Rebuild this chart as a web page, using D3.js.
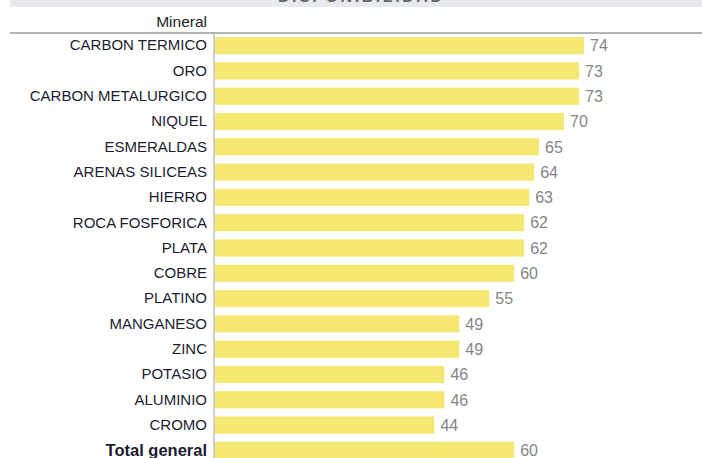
<!DOCTYPE html>
<html>
<head>
<meta charset="utf-8">
<script src="https://cdn.jsdelivr.net/npm/d3@7"></script>
<style>
  html, body { margin: 0; padding: 0; background: #fff; }
  svg { display: block; }
  text { font-family: "Liberation Sans", Arial, sans-serif; }
</style>
</head>
<body>
<svg id="chart" width="702" height="458"></svg>
<script>
const minerals = [
  "CARBON TERMICO", "ORO", "CARBON METALURGICO", "NIQUEL", "ESMERALDAS",
  "ARENAS SILICEAS", "HIERRO", "ROCA FOSFORICA", "PLATA", "COBRE",
  "PLATINO", "MANGANESO", "ZINC", "POTASIO", "ALUMINIO", "CROMO", "Total general"
];
const disponibilidad = [74, 73, 73, 70, 65, 64, 63, 62, 62, 60, 55, 49, 49, 46, 46, 44, 60];
const titleText = "DISPONIBILIDAD";
const columnHeader = "Mineral";

const rows = minerals.map((m, i) => ({ name: m, value: disponibilidad[i] }));

const svg = d3.select("#chart");
const W = 702, H = 458;
const axisX = 214;

// title band at the top (the title sits mostly above the visible area)
svg.append("rect").attr("x", 10).attr("y", 0).attr("width", W - 10).attr("height", 7).attr("fill", "#e9eaef");
svg.append("text").attr("x", 360).attr("y", 2).attr("text-anchor", "middle")
  .attr("font-size", 16).attr("font-weight", "bold").attr("fill", "#666")
  .attr("textLength", 164).text(titleText);

const x = d3.scaleLinear().domain([0, 74]).range([axisX + 1, 584]);
const y = d3.scaleBand().domain(minerals).range([33, 463]).paddingInner(0.32).paddingOuter(0.16);

// header row
svg.append("text").attr("x", 207).attr("y", 27).attr("text-anchor", "end")
  .attr("font-size", 15.5).attr("fill", "#222").text(columnHeader);
svg.append("line").attr("x1", 10).attr("x2", W).attr("y1", 33).attr("y2", 33)
  .attr("stroke", "#b4b4b4").attr("stroke-width", 2);

// bars
svg.append("g").selectAll("rect").data(rows).join("rect")
  .attr("x", x(0))
  .attr("y", d => y(d.name))
  .attr("width", d => x(d.value) - x(0))
  .attr("height", y.bandwidth())
  .attr("fill", "#f4e872");

// row labels
const yAxis = d3.axisLeft(y).tickSize(0).tickPadding(7);
const gy = svg.append("g").attr("transform", `translate(${axisX},0)`).call(yAxis);
gy.select(".domain").remove();
gy.selectAll("text")
  .attr("font-size", d => d === "Total general" ? 16.5 : 15)
  .attr("fill", "#1c1c30")
  .attr("font-family", null)
  .attr("font-weight", d => d === "Total general" ? "bold" : null);

// axis line
svg.append("line").attr("x1", axisX).attr("x2", axisX).attr("y1", 34).attr("y2", H)
  .attr("stroke", "#b0b0b0").attr("stroke-width", 1.2);

// value labels
svg.append("g").selectAll("text").data(rows).join("text")
  .attr("x", d => x(d.value) + 6)
  .attr("y", d => y(d.name) + y.bandwidth() / 2)
  .attr("dy", "0.36em")
  .attr("font-size", 16)
  .attr("fill", "#858585")
  .text(d => d.value);
</script>
</body>
</html>
